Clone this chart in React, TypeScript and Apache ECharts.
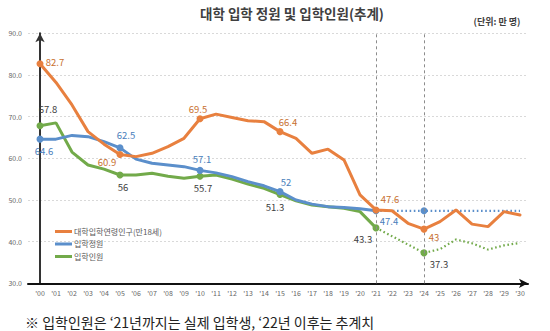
import React, { useEffect, useRef } from "react";
import * as echarts from "echarts";

const FONT = "'Noto Sans CJK KR', 'Noto Sans', sans-serif";

const yearLabels = ["'00","'01","'02","'03","'04","'05","'06","'07","'08","'09","'10","'11","'12","'13","'14","'15","'16","'17","'18","'19","'20","'21","'22","'23","'24","'25","'26","'27","'28","'29","'30"];

// 대학입학연령인구(만18세), '00 ~ '30
const agePopulation = [82.7, 78.2, 72.8, 66.4, 63.4, 60.9, 60.4, 61.2, 62.8, 64.8, 69.5, 70.6, 69.8, 69.0, 68.8, 66.4, 64.8, 61.2, 62.2, 59.6, 51.2, 47.6, 47.4, 44.4, 43.0, 44.8, 47.6, 44.2, 43.6, 47.2, 46.4];
// 입학정원 actual '00 ~ '21
const quotaActual = [64.6, 64.6, 65.5, 65.2, 64.0, 62.5, 59.8, 58.8, 58.4, 58.0, 57.1, 56.5, 55.6, 54.4, 53.4, 52.0, 50.0, 49.0, 48.4, 48.2, 47.9, 47.4];
// 입학정원 projection '21 ~ '30
const quotaForecast = [47.4, 47.4, 47.4, 47.4, 47.4, 47.4, 47.4, 47.4, 47.4, 47.4];
// 입학인원 actual '00 ~ '21
const entrantsActual = [67.8, 68.5, 61.5, 58.4, 57.4, 56.0, 56.0, 56.4, 55.7, 55.2, 55.7, 56.0, 55.0, 53.8, 52.8, 51.3, 49.8, 48.8, 48.4, 48.0, 47.2, 43.3];
// 입학인원 projection '21 ~ '30
const entrantsForecast = [43.3, 41.3, 39.3, 37.3, 38.2, 40.5, 39.6, 38.1, 39.1, 39.7];

const legendNames = ["대학입학연령인구(만18세)", "입학정원", "입학인원"];
const yTicks = [30, 40, 50, 60, 70, 80, 90];
const forecastStart = 21;
const guideYears = [21, 24];

const C_ORANGE = "#E8803F";
const C_BLUE = "#5B8FCB";
const C_GREEN = "#72AA4A";

const markIdx = [0, 5, 10, 15, 21, 24];

type Off = Record<number, [number, number]>;
const orangeLabels: Off = { 0: [15, -2], 5: [-13, 7], 10: [-2, -10], 15: [8, -10], 21: [14, -11], 24: [10, 8] };
const blueLabels: Off = { 0: [4, 12], 5: [6, -13], 10: [2, -11], 15: [6, -10], 21: [13, 10] };
const greenLabels: Off = { 0: [8, -17], 5: [3, 12], 10: [3, 12], 15: [-5, 12], 21: [-13, 11], 24: [15, 11] };

function build(values: number[], start: number, offs: Off, labelColor: string, marks: number[]) {
  return values.map((v, k) => {
    const i = start + k;
    const item: any = { value: [i, v] };
    if (marks.includes(i)) {
      item.symbol = "circle";
      item.symbolSize = 7;
    }
    const off = offs[i];
    if (off) {
      item.label = {
        show: true,
        position: "inside",
        offset: off,
        formatter: String(v),
        color: labelColor,
        fontSize: 9.5,
        fontFamily: FONT,
      };
    }
    return item;
  });
}

export default function App() {
  const ref = useRef<HTMLDivElement>(null);
  useEffect(() => {
    if (!ref.current) return;
    const chart = echarts.init(ref.current, undefined, { renderer: "svg" });
    const baseLine = (color: string, dotted: boolean) => ({
      type: "line",
      symbol: "none",
      connectNulls: false,
      lineStyle: dotted
        ? { color, width: 2.2, type: [1.6, 2.6], cap: "butt" }
        : { color, width: 3, type: "solid", cap: "round" },
      itemStyle: { color },
      emphasis: { disabled: true },
    });
    chart.setOption({
      animation: false,
      textStyle: { fontFamily: FONT },
      grid: { left: 28, right: 22, top: 33.3, bottom: 47.7, containLabel: false },
      legend: {
        data: legendNames,
        orient: "vertical",
        left: 50,
        top: 222.5,
        icon: "rect",
        itemWidth: 17,
        itemHeight: 3,
        itemGap: 4.5,
        selectedMode: false,
        textStyle: { fontSize: 8, color: "#595959", fontFamily: FONT, padding: [0, 0, 0, -3] },
      },
      xAxis: {
        type: "value",
        min: -0.75,
        max: 30.5,
        splitLine: { show: false },
        axisLine: { show: true, lineStyle: { color: "#111", width: 2 }, symbol: ["none", "arrow"], symbolSize: [7, 9] },
        axisTick: { show: false },
        axisLabel: {
          customValues: yearLabels.map((_, i) => i),
          formatter: (v: number) => yearLabels[Math.round(v)] ?? "",
          fontSize: 7,
          color: "#666",
          margin: 6,
          fontFamily: FONT,
        },
      },
      yAxis: {
        type: "value",
        min: yTicks[0],
        max: yTicks[yTicks.length - 1],
        interval: 10,
        axisLine: { show: true, lineStyle: { color: "#333", width: 2 }, symbol: ["none", "arrow"], symbolSize: [7, 9] },
        axisTick: { show: false },
        splitLine: { show: true, lineStyle: { color: "#d9d9d9", type: [2, 2], width: 1 } },
        axisLabel: { formatter: (v: number) => v.toFixed(1), fontSize: 7, color: "#666", margin: 6, fontFamily: FONT },
      },
      series: [
        {
          ...baseLine(C_GREEN, false),
          name: legendNames[2],
          data: build(entrantsActual, 0, greenLabels, "#404040", markIdx),
          z: 3,
        },
        {
          ...baseLine(C_GREEN, true),
          name: "입학인원(추계)",
          data: build(entrantsForecast, forecastStart, greenLabels, "#404040", [24]).map((d: any) => (d.value[0] === 21 ? { value: d.value } : d)),
          z: 3,
        },
        {
          ...baseLine(C_BLUE, false),
          name: legendNames[1],
          data: build(quotaActual, 0, blueLabels, "#4A7EBB", markIdx),
          z: 4,
        },
        {
          ...baseLine(C_BLUE, true),
          name: "입학정원(추계)",
          data: build(quotaForecast, forecastStart, {}, "#4A7EBB", [24]),
          z: 4,
        },
        {
          ...baseLine(C_ORANGE, false),
          name: legendNames[0],
          data: build(agePopulation, 0, orangeLabels, "#C8702F", markIdx),
          z: 5,
          markLine: {
            silent: true,
            symbol: "none",
            label: { show: false },
            lineStyle: { color: "#8c8c8c", type: [3, 3], width: 1 },
            data: guideYears.map((y) => ({ xAxis: y })),
          },
        },
      ],
      graphic: [
        {
          type: "text",
          x: 292,
          y: 13,
          style: {
            text: "대학 입학 정원 및 입학인원(추계)",
            font: `bold 13.5px ${FONT}`,
            fill: "#404040",
            textAlign: "center",
            textVerticalAlign: "middle",
          },
        },
        {
          type: "text",
          x: 497,
          y: 21,
          style: {
            text: "(단위: 만 명)",
            font: `bold 9px ${FONT}`,
            fill: "#404040",
            textAlign: "center",
            textVerticalAlign: "middle",
          },
        },
        {
          type: "text",
          x: 25,
          y: 321.5,
          style: {
            text: "※ 입학인원은 ‘21년까지는 실제 입학생, ‘22년 이후는 추계치",
            font: `14px ${FONT}`,
            fill: "#222",
            textAlign: "left",
            textVerticalAlign: "middle",
          },
        },
      ],
    });
    return () => chart.dispose();
  }, []);
  return <div ref={ref} style={{ position: "fixed", left: 0, top: 0, width: 550, height: 331, background: "#fff" }} />;
}
